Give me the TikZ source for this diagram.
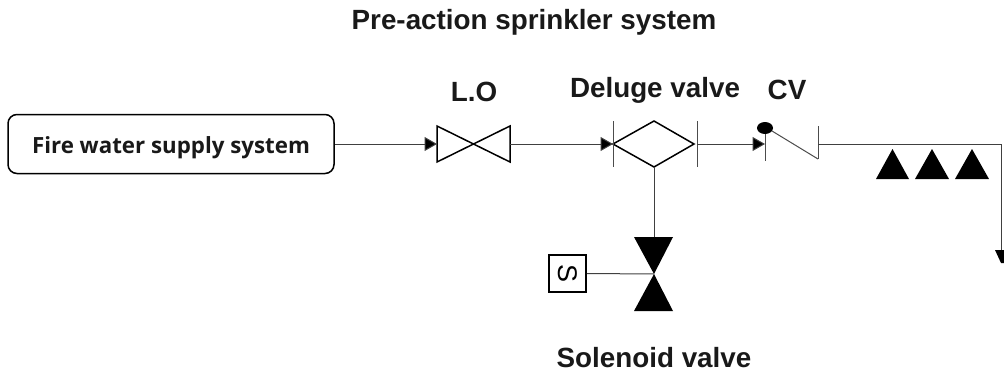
\documentclass[tikz,border=0pt]{standalone}
\usepackage{fontspec}
\setmainfont{Liberation Sans}
\newfontfamily\boxfont{Open Sans}
\usetikzlibrary{arrows.meta,calc}
\tikzset{
  lbl/.style={font=\bfseries\fontsize{27.8}{32}\selectfont,inner sep=0pt,text=black!90},
  pipe/.style={draw=black!75,line width=1pt},
  flow/.style={pipe,-{Triangle[length=12.5pt,width=14pt,fill=black]}},
  valveline/.style={draw=black,line width=1.5pt,line join=miter},
  tick/.style={draw=black!70,line width=1pt},
}
\begin{document}
\begin{tikzpicture}[x=1pt,y=-1pt]
\useasboundingbox (0,0) rectangle (1004,372);
% labels
\node[lbl] (title) at (534,22.5) {Pre-action sprinkler system};
\node[lbl] (lolabel) at (474,92) {L.O};
\node[lbl] (dvlabel) at (655,90) {Deluge valve};
\node[lbl] (cvlabel) at (787,90) {CV};
\node[lbl] (svlabel) at (654,358) {Solenoid valve};
% source
\node[draw=black,line width=1.5pt,rounded corners=9pt,minimum width=326pt,minimum height=59pt,inner sep=0pt] (fire) at (171,144) {};
\node[font=\boxfont\bfseries\fontsize{22.3}{26}\selectfont,text=black!90,inner sep=0pt] (firetext) at (171,148) {Fire water supply system};
% anchors
\coordinate (loL) at (437,144);
\coordinate (loC) at (474,144);
\coordinate (loR) at (510,144);
\coordinate (dvL) at (613,144);
\coordinate (dvC) at (654,144);
\coordinate (dvR) at (694,144);
\coordinate (dvB) at (654,167);
\coordinate (dvT) at (697,144);
\coordinate (cvL) at (765,144);
\coordinate (cvR) at (818,144);
\coordinate (bend) at (1001,144);
\coordinate (end) at (1001,263);
\coordinate (svT) at (654,237);
\coordinate (svC) at (654,274);
% L.O valve
\draw[valveline] (437,126) -- (510,162) -- (510,126) -- (437,162) -- cycle;
% deluge valve
\draw[valveline] (dvL) -- (dvC |- 0,121) -- (dvR) -- (dvB) -- cycle;
\draw[tick] (613,121) -- (613,167);
\draw[tick] (697,121) -- (697,167);
% check valve
\draw[tick] (765,132) -- (765,161);
\draw[tick] (772,131) -- (818,159);
\draw[tick] (818,126) -- (818,159);
\fill (765,128) ellipse (8pt and 6pt);
% sprinklers
\fill (876,179) -- (892.5,149) -- (909,179) -- cycle;
\fill (915,179) -- (932,149) -- (949,179) -- cycle;
\fill (955,179) -- (972,149) -- (989,179) -- cycle;
% solenoid valve
\fill (634,237) -- (673,237) -- (svC) -- cycle;
\fill (634,311) -- (673,311) -- (svC) -- cycle;
\node[draw=black,line width=1.5pt,minimum size=37pt,inner sep=0pt,font=\fontsize{27}{30}\selectfont] (sq) at (567.5,273.5) {\rotatebox{-90}{S}};
% connectors
\draw[flow] (fire.east) -- (loL);
\draw[flow] (loR) -- (dvL);
\draw[flow] (dvT) -- (cvL);
\draw[pipe] (cvR) -- (bend) -- (end);
\fill (995,250) -- (1004,250) -- (1004,263) -- (1001,263) -- cycle;
\draw[pipe] (dvB) -- (svT);
\draw[pipe] (sq.east) -- (svC);
\end{tikzpicture}
\end{document}
